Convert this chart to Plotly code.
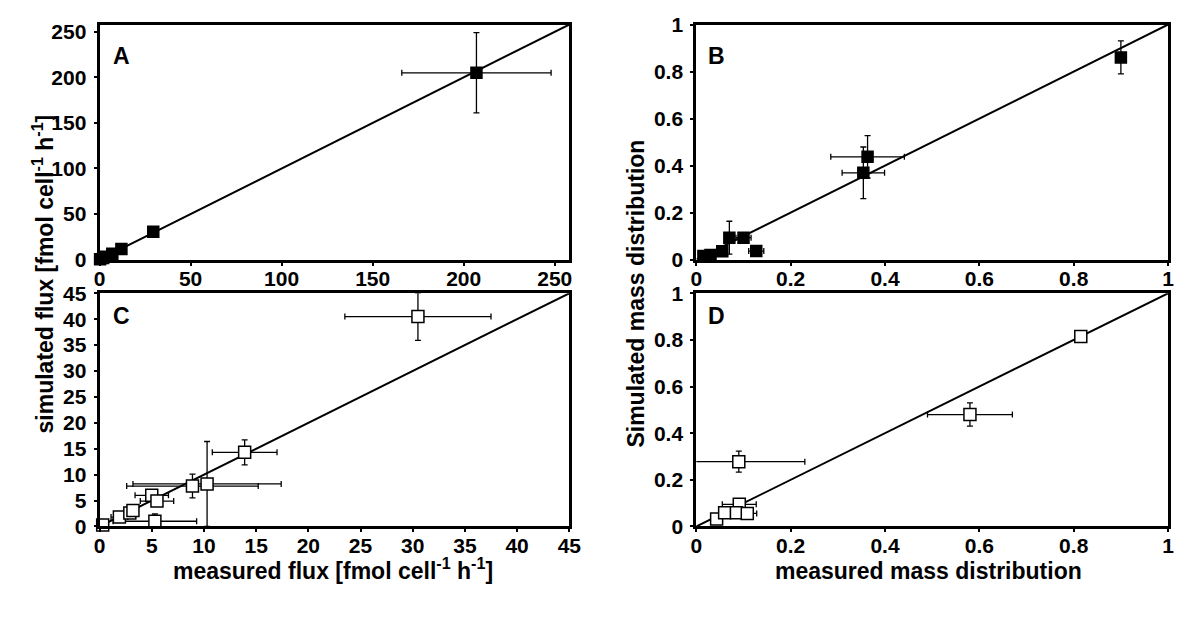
import plotly.graph_objects as go

# ---- Panel A: flux, full range (filled squares) ----
a_meas = [0.3, 2.0, 3.2, 7.0, 12.0, 29.5, 207.0]
a_sim = [0.3, 1.8, 3.0, 6.5, 11.5, 30.5, 205.0]
a_xerr = [0, 0, 0, 0, 0, 0, 41.0]
a_yerr = [0, 0, 0, 0, 0, 0, 44.0]
a_yerr_minus = a_yerr

# ---- Panel B: mass distribution (filled squares) ----
b_meas = [0.015, 0.03, 0.055, 0.07, 0.10, 0.127, 0.354, 0.363, 0.90]
b_sim = [0.015, 0.02, 0.035, 0.093, 0.093, 0.036, 0.369, 0.437, 0.86]
b_xerr = [0, 0, 0, 0, 0.016, 0.016, 0.045, 0.078, 0]
b_yerr = [0, 0, 0, 0.07, 0, 0, 0.11, 0.09, 0.07]
b_yerr_minus = b_yerr

# ---- Panel C: flux, low range (open squares) ----
c_meas = [0.3, 1.9, 2.9, 3.2, 5.0, 5.5, 5.3, 8.9, 10.3, 13.9, 30.5]
c_sim = [0.3, 1.8, 2.6, 3.1, 6.0, 4.9, 1.0, 7.8, 8.2, 14.3, 40.5]
c_xerr = [0, 0.8, 0.5, 0.5, 1.6, 1.6, 4.0, 6.3, 7.1, 3.1, 7.0]
c_yerr = [0, 0.3, 0.3, 0.3, 0.5, 1.0, 1.4, 2.3, 8.2, 2.4, 4.6]
c_yerr_minus = [0, 0.3, 0.3, 0.3, 0.5, 1.0, 0, 2.3, 8.2, 2.4, 4.6]

# ---- Panel D: mass distribution (open squares) ----
d_meas = [0.043, 0.06, 0.091, 0.085, 0.108, 0.09, 0.58, 0.815]
d_sim = [0.032, 0.059, 0.095, 0.059, 0.056, 0.278, 0.48, 0.815]
d_xerr = [0, 0, 0.036, 0, 0.02, 0.14, 0.09, 0]
d_yerr = [0, 0, 0, 0, 0, 0.045, 0.05, 0]
d_yerr_minus = d_yerr

flux_ticks_a = [0, 50, 100, 150, 200, 250]
flux_ticks_c = [0, 5, 10, 15, 20, 25, 30, 35, 40, 45]
frac_ticks = [0, 0.2, 0.4, 0.6, 0.8, 1]
frac_labels = ["0", "0.2", "0.4", "0.6", "0.8", "1"]

FONT = "Liberation Sans, Arial, sans-serif"
W, H = 1184, 628


def px_x(p):
    return p / W


def px_y(p):
    return 1 - p / H


fig = go.Figure()

panels = [
    # letter, x, y, xerr, yerr(+), yerr(-), filled, axis max, ticks, labels,
    # x pixel span, y pixel span, letter position
    ("A", a_meas, a_sim, a_xerr, a_yerr, a_yerr_minus, True, 258, flux_ticks_a, None,
     (95, 572), (13, 257), (107, 30)),
    ("B", b_meas, b_sim, b_xerr, b_yerr, b_yerr_minus, True, 1, frac_ticks, frac_labels,
     (701, 1180), (13, 257), (711, 30)),
    ("C", c_meas, c_sim, c_xerr, c_yerr, c_yerr_minus, False, 45, flux_ticks_c, None,
     (95, 572), (292, 534), (107, 300)),
    ("D", d_meas, d_sim, d_xerr, d_yerr, d_yerr_minus, False, 1, frac_ticks, frac_labels,
     (701, 1180), (292, 534), (711, 300)),
]

layout = {}
for i, (name, xs, ys, xe, ye, yem, filled, vmax, ticks, labels, xr, yr, lp) in enumerate(panels):
    n = "" if i == 0 else str(i + 1)
    xa, ya = "x" + n, "y" + n
    # identity line
    fig.add_trace(go.Scatter(
        x=[0, vmax], y=[0, vmax], mode="lines",
        line=dict(color="black", width=2), xaxis=xa, yaxis=ya,
        showlegend=False, hoverinfo="skip"))
    fig.add_trace(go.Scatter(
        x=xs, y=ys, mode="markers", xaxis=xa, yaxis=ya, showlegend=False,
        marker=dict(symbol="square", size=11 if filled else 12,
                    color="black" if filled else "white",
                    line=dict(color="black", width=1.5)),
        error_x=dict(type="data", array=xe, color="black", thickness=1.3, width=3),
        error_y=dict(type="data", array=ye, arrayminus=yem, symmetric=False,
                     color="black", thickness=1.3, width=3),
        cliponaxis=False))
    axis_common = dict(
        showline=True, linecolor="black", linewidth=3, mirror=True,
        showgrid=False, zeroline=False, ticks="outside", ticklen=3,
        tickwidth=1.5, tickcolor="black",
        tickfont=dict(family=FONT, size=21, color="black", weight="bold"),
        tickvals=ticks, range=[0, vmax], fixedrange=True)
    if labels:
        axis_common["ticktext"] = labels
    layout["xaxis" + n] = dict(
        axis_common, domain=[px_x(xr[0]), px_x(xr[1])], anchor=ya,
        ticklabelstandoff=-5)
    layout["yaxis" + n] = dict(
        axis_common, domain=[px_y(yr[1]), px_y(yr[0])], anchor=xa,
        ticklabelstandoff=3)
    fig.add_annotation(
        text=name, xref="paper", yref="paper",
        x=px_x(lp[0]), y=px_y(lp[1]), xanchor="left", yanchor="top", showarrow=False,
        font=dict(family=FONT, size=23, color="black", weight="bold"))

title_font = dict(family=FONT, size=23, color="black", weight="bold")
fig.add_annotation(
    text="simulated flux [fmol cell<sup>-1</sup> h<sup>-1</sup>]",
    xref="paper", yref="paper", x=px_x(38), y=px_y(272),
    xanchor="center", yanchor="middle",
    textangle=-90, showarrow=False, font=title_font)
fig.add_annotation(
    text="Simulated mass distribution",
    xref="paper", yref="paper", x=px_x(640), y=px_y(292),
    xanchor="center", yanchor="middle",
    textangle=-90, showarrow=False, font=title_font)
fig.add_annotation(
    text="measured flux [fmol cell<sup>-1</sup> h<sup>-1</sup>]",
    xref="paper", yref="paper", x=px_x(332), y=px_y(578),
    xanchor="center", yanchor="middle",
    showarrow=False, font=title_font)
fig.add_annotation(
    text="measured mass distribution",
    xref="paper", yref="paper", x=px_x(937), y=px_y(580),
    xanchor="center", yanchor="middle",
    showarrow=False, font=title_font)

fig.update_layout(
    width=W, height=H, margin=dict(l=0, r=0, t=0, b=0),
    paper_bgcolor="white", plot_bgcolor="white", **layout)

fig.write_html("out.html")
